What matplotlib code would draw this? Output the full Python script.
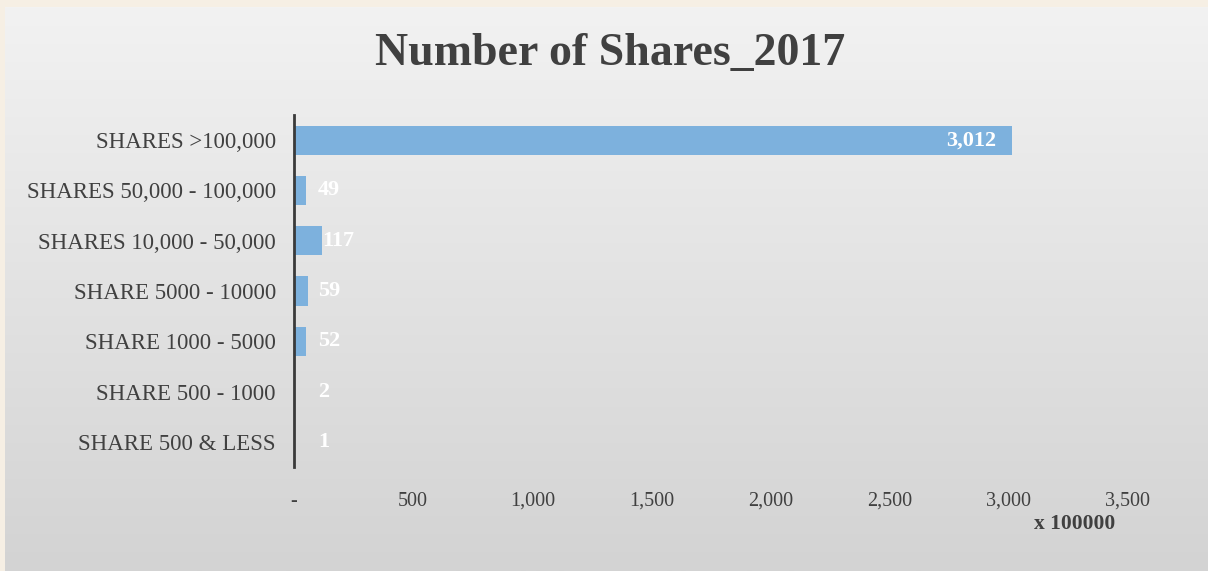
import numpy as np
import matplotlib
import matplotlib.pyplot as plt
from matplotlib.ticker import FuncFormatter

matplotlib.use("Agg")

categories = ["SHARES >100,000", "SHARES 50,000 - 100,000", "SHARES 10,000 - 50,000",
              "SHARE 5000 - 10000", "SHARE 1000 - 5000", "SHARE 500 - 1000",
              "SHARE 500 & LESS"]
values = [3012, 49, 117, 59, 52, 2, 1]
x_ticks = [0, 500, 1000, 1500, 2000, 2500, 3000, 3500]

plt.rcParams["font.family"] = ["Liberation Serif", "DejaVu Serif"]
TXT = "#404040"
BAR = "#7db1dd"

fig = plt.figure(figsize=(12.08, 5.71), dpi=100)
fig.patch.set_facecolor("#f6efe4")

# grey gradient panel behind the chart
bg = fig.add_axes([5 / 1208, 0, 1 - 5 / 1208, 1 - 7 / 571], zorder=0)
grad = np.linspace(0, 1, 256)[:, None]
bg.imshow(grad, aspect="auto", cmap=matplotlib.colors.LinearSegmentedColormap.from_list(
    "g", ["#f2f2f2", "#d3d3d3"]), extent=[0, 1, 0, 1], origin="upper")
bg.set_axis_off()

ax = fig.add_axes([294 / 1208, 1 - 467 / 571, (1128 - 294) / 1208, (467 - 115) / 571], zorder=1)
ax.patch.set_alpha(0)

y = np.arange(len(categories))
ax.barh(y, values, height=0.58, color=BAR)
ax.set_ylim(len(categories) - 0.5, -0.5)
ax.set_xlim(0, 3500)
ax.set_yticks(y)
ax.set_yticklabels(categories, fontsize=16.5, color=TXT)
ax.set_xticks(x_ticks)
ax.xaxis.set_major_formatter(FuncFormatter(lambda v, p: "-" if v == 0 else f"{v:,.0f}"))
ax.tick_params(axis="x", labelsize=14.5, colors=TXT, length=0, pad=18)
ax.tick_params(axis="y", length=0, pad=13)
for s in ["top", "right", "bottom"]:
    ax.spines[s].set_visible(False)
ax.spines["left"].set_color("#3a3a3a")
ax.spines["left"].set_linewidth(2)

for yi, v in zip(y, values):
    if v > 500:
        ax.text(v - 65, yi, f"{v:,}", ha="right", va="center", color="white",
                fontsize=16, fontweight="bold")
    else:
        ax.text(max(v + 3, 100), yi, f"{v:,}", ha="left", va="center", color="white",
                fontsize=16, fontweight="bold")

fig.text(610 / 1208, 1 - 54 / 571, "Number of Shares_2017", ha="center", va="center",
         fontsize=33, fontweight="bold", color=TXT)
fig.text(1075 / 1208, 1 - 524 / 571, "x 100000", ha="center", va="center",
         fontsize=15.5, fontweight="bold", color=TXT)

fig.savefig("out.png", dpi=100, facecolor=fig.get_facecolor())
